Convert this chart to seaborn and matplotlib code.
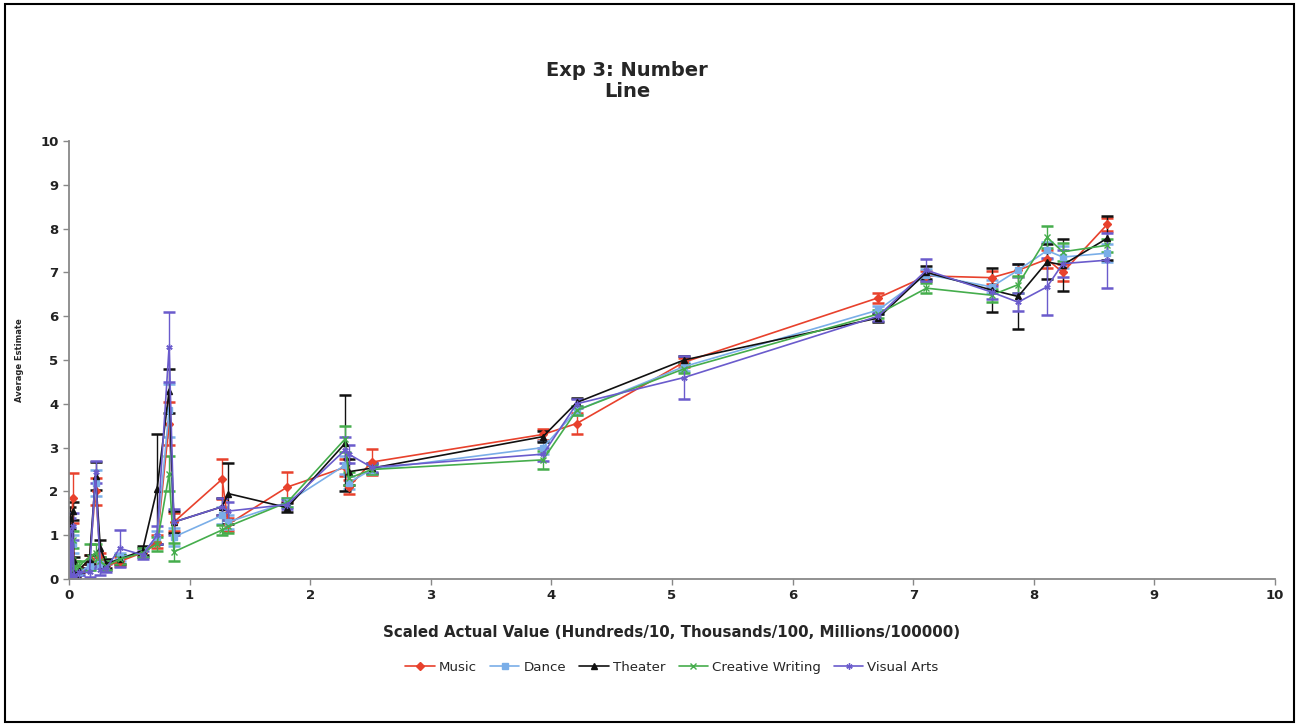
import numpy as np
import pandas as pd
import seaborn as sns
import matplotlib
matplotlib.use("Agg")
import matplotlib.pyplot as plt
import matplotlib.patches as mpatches

# scaled actual values (shared by all groups)
x_vals = [0.005, 0.01, 0.02, 0.03, 0.04, 0.05, 0.08, 0.17, 0.22, 0.26, 0.31, 0.42,
          0.61, 0.73, 0.83, 0.87, 1.27, 1.32, 1.81, 2.29, 2.32, 2.51, 3.93, 4.21,
          5.1, 6.71, 7.11, 7.65, 7.87, 8.11, 8.24, 8.61]

music = [0.10, 0.60, 0.15, 1.85, 0.30, 0.12, 0.20, 0.45, 2.00, 0.50, 0.30, 0.40,
         0.60, 0.85, 3.55, 1.30, 2.28, 1.25, 2.10, 2.55, 2.10, 2.67, 3.30, 3.55,
         4.95, 6.42, 6.92, 6.88, 7.05, 7.30, 7.00, 8.10]
music_err = [0.05, 0.15, 0.05, 0.57, 0.10, 0.05, 0.05, 0.10, 0.30, 0.10, 0.10, 0.10,
             0.10, 0.15, 0.50, 0.20, 0.45, 0.15, 0.35, 0.20, 0.15, 0.30, 0.12, 0.25,
             0.10, 0.12, 0.12, 0.15, 0.15, 0.20, 0.20, 0.15]

dance = [0.20, 1.00, 0.10, 0.80, 0.20, 0.15, 0.15, 0.30, 2.20, 0.35, 0.30, 0.50,
         0.60, 0.95, 3.85, 0.96, 1.45, 1.30, 1.75, 2.60, 2.20, 2.50, 3.00, 3.85,
         4.85, 6.14, 6.95, 6.67, 7.05, 7.50, 7.35, 7.44]
dance_err = [0.05, 0.20, 0.05, 0.20, 0.05, 0.05, 0.05, 0.10, 0.30, 0.10, 0.10, 0.10,
             0.10, 0.15, 0.60, 0.20, 0.20, 0.15, 0.10, 0.20, 0.15, 0.10, 0.15, 0.10,
             0.10, 0.10, 0.12, 0.15, 0.15, 0.20, 0.25, 0.20]

theater = [0.30, 1.40, 0.20, 1.55, 0.40, 0.10, 0.20, 0.45, 2.35, 0.70, 0.35, 0.45,
           0.65, 2.05, 4.30, 1.30, 1.65, 1.95, 1.63, 3.10, 2.45, 2.53, 3.25, 4.03,
           5.00, 5.96, 7.00, 6.60, 6.45, 7.24, 7.17, 7.78]
theater_err = [0.10, 0.25, 0.05, 0.20, 0.10, 0.05, 0.05, 0.10, 0.32, 0.20, 0.10, 0.10,
               0.10, 1.25, 0.50, 0.25, 0.20, 0.70, 0.10, 1.10, 0.30, 0.12, 0.12, 0.10,
               0.10, 0.10, 0.15, 0.50, 0.75, 0.40, 0.60, 0.50]

creative = [0.15, 0.62, 0.10, 0.90, 0.25, 0.30, 0.30, 0.50, 0.60, 0.40, 0.30, 0.45,
            0.60, 0.80, 2.40, 0.62, 1.12, 1.20, 1.75, 3.20, 2.30, 2.50, 2.72, 3.85,
            4.80, 6.05, 6.64, 6.48, 6.72, 7.80, 7.47, 7.62]
creative_err = [0.05, 0.15, 0.05, 0.20, 0.05, 0.10, 0.10, 0.30, 0.20, 0.10, 0.10, 0.10,
                0.10, 0.15, 0.40, 0.20, 0.12, 0.15, 0.10, 0.30, 0.15, 0.10, 0.20, 0.10,
                0.10, 0.10, 0.12, 0.15, 0.20, 0.25, 0.20, 0.15]

visual = [0.05, 1.10, 0.10, 1.20, 0.10, 0.05, 0.15, 0.15, 2.45, 0.20, 0.25, 0.70,
          0.55, 1.00, 5.30, 1.30, 1.65, 1.55, 1.70, 2.95, 2.85, 2.55, 2.85, 4.00,
          4.60, 6.00, 7.05, 6.55, 6.32, 6.67, 7.20, 7.28]
visual_err = [0.05, 0.30, 0.05, 0.30, 0.05, 0.05, 0.05, 0.10, 0.25, 0.10, 0.10, 0.42,
              0.10, 0.20, 0.80, 0.30, 0.20, 0.20, 0.10, 0.30, 0.20, 0.10, 0.15, 0.10,
              0.50, 0.10, 0.25, 0.15, 0.20, 0.65, 0.30, 0.63]

series_names = ["Music", "Dance", "Theater", "Creative Writing", "Visual Arts"]
series_vals = [music, dance, theater, creative, visual]
series_errs = [music_err, dance_err, theater_err, creative_err, visual_err]

palette = {"Music": "#e8412c", "Dance": "#7aaee8", "Theater": "#111111",
           "Creative Writing": "#45ad4c", "Visual Arts": "#6a5bcc"}
markers = {"Music": "D", "Dance": "s", "Theater": "^",
           "Creative Writing": "x", "Visual Arts": (6, 2, 0)}

sns.set_style("white")
plt.rcParams["font.family"] = ["DejaVu Sans"]

fig = plt.figure(figsize=(12.99, 7.26), dpi=100)
ax = fig.add_axes([69 / 1299, 1 - 579 / 726, (1275 - 69) / 1299, (579 - 141) / 726])

for name, vals, errs in zip(series_names, series_vals, series_errs):
    ax.errorbar(x_vals, vals, yerr=errs, fmt="none", ecolor=palette[name],
                elinewidth=1.0, capsize=4, capthick=1.8, zorder=1)

for name, vals in zip(series_names, series_vals):
    sub = pd.DataFrame({"x": x_vals, "y": vals})
    sns.lineplot(data=sub, x="x", y="y", color=palette[name], marker=markers[name],
                 estimator=None, sort=False, linewidth=1.2, markersize=4.5,
                 markeredgewidth=1.0, markeredgecolor=palette[name],
                 label=name, ax=ax, zorder=2)

ax.set_xlim(0, 10)
ax.set_ylim(0, 10)
ax.set_xticks(range(0, 11))
ax.set_yticks(range(0, 11))
for lab in ax.get_xticklabels() + ax.get_yticklabels():
    lab.set_fontweight("bold")
    lab.set_fontsize(9.5)
    lab.set_color("#222222")
ax.tick_params(axis="both", direction="out", length=4, width=1, color="#888888",
               bottom=True, left=True)
sns.despine(ax=ax)
for side in ["left", "bottom"]:
    ax.spines[side].set_color("#888888")
    ax.spines[side].set_linewidth(1.3)

ax.set_xlabel("Scaled Actual Value (Hundreds/10, Thousands/100, Millions/100000)",
              fontsize=10.8, fontweight="bold", labelpad=16)
ax.set_ylabel("Average Estimate", fontsize=6, fontweight="bold", labelpad=12)

ax.legend(loc="upper center", bbox_to_anchor=(0.5, -0.16),
          ncol=5, frameon=False, fontsize=9.6, handlelength=2.2,
          columnspacing=1.0, handletextpad=0.3)

fig.text(627 / 1299, 1 - 81 / 726, "Exp 3: Number\nLine", ha="center",
         va="center", fontsize=14, fontweight="bold", linespacing=1.15)

fig.patches.append(mpatches.Rectangle((0.004, 0.005), 0.992, 0.99,
                                      transform=fig.transFigure, fill=False,
                                      edgecolor="black", linewidth=1.5))

fig.savefig("out.png", dpi=100)
